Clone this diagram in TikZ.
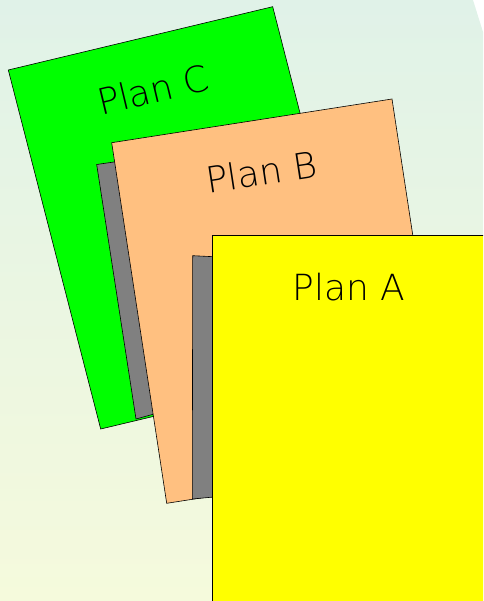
\documentclass[tikz,border=0pt]{standalone}
\usepackage{fontspec}
\newfontfamily\planfont{DejaVu Sans ExtraLight}
\definecolor{bgtop}{RGB}{224,242,232}
\definecolor{bgbot}{RGB}{245,250,220}
\definecolor{planC}{RGB}{0,255,0}
\definecolor{planB}{RGB}{255,192,128}
\definecolor{planA}{RGB}{255,255,0}
\definecolor{shadowgray}{RGB}{128,128,128}
\begin{document}
\begin{tikzpicture}[x=1pt,y=-1pt,
  card/.style={draw=black,line width=0.6pt},
  lbl/.style={font=\planfont\fontsize{36}{40}\selectfont,inner sep=0pt,text=black}]
\useasboundingbox (0,0) rectangle (483,601);
\clip (0,0) rectangle (483,601);
\shade[top color=bgtop,bottom color=bgbot]
  (0,0) -- (473,0) -- (483,32) -- (483,601) -- (0,601) -- cycle;
% Plan C
\draw[card,fill=planC] (8.3,70) -- (272.7,6.7) -- (365,366) -- (100.7,429) -- cycle;
\node[lbl,rotate=13.5] (tc) at (153,89.5) {Plan C};
% gray behind B
\draw[card,fill=shadowgray] (96.7,164.5) -- (140,158.2) -- (170,409.6) -- (136,419) -- cycle;
% Plan B
\draw[card,fill=planB] (111.7,142.7) -- (392,99) -- (447,459.6) -- (166.7,503.3) -- cycle;
\node[lbl,rotate=8.7] (tb) at (261.5,172) {Plan B};
% gray behind A
\draw[card,fill=shadowgray] (192.7,255.7) -- (230,257.5) -- (230,495.5) -- (192.3,499) -- cycle;
% Plan A
\draw[card,fill=planA] (212.3,235.7) rectangle (495,615);
\node[lbl] (ta) at (349,287) {Plan A};
\end{tikzpicture}
\end{document}
